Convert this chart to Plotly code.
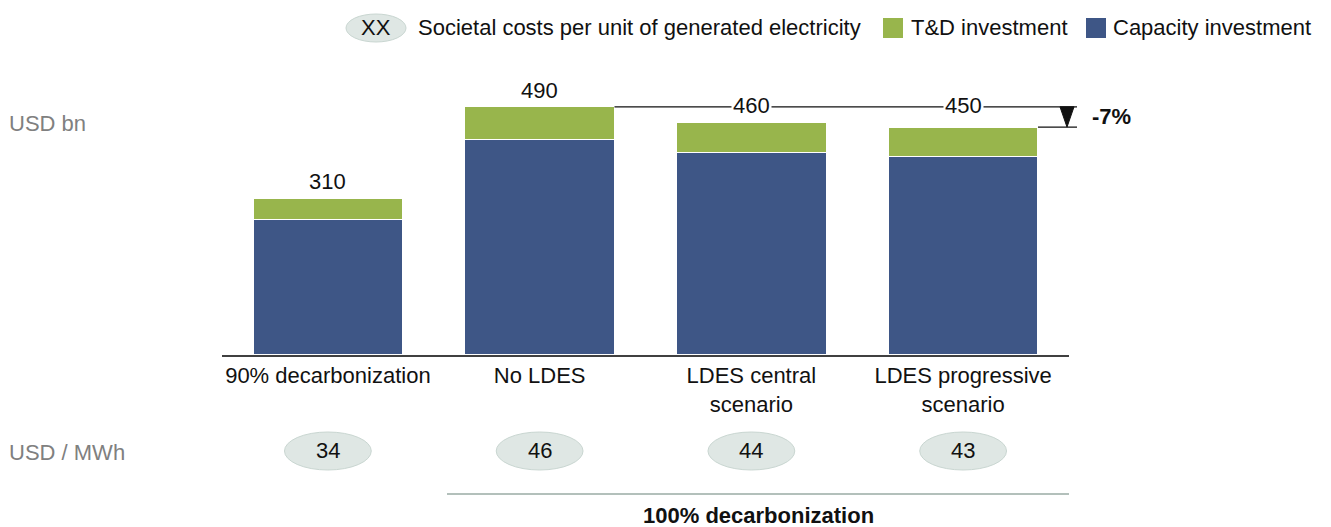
import plotly.graph_objects as go

categories = ["90% decarbonization", "No LDES", "LDES central<br>scenario", "LDES progressive<br>scenario"]
capacity = [268, 425, 400, 392]
td = [42, 65, 60, 58]
totals = [310, 490, 460, 450]
cost_per_mwh = [34, 46, 44, 43]
reduction_label = "-7%"

BLUE = "#3e5686"
GREEN = "#98b54c"
FONT = "Arial, Liberation Sans, sans-serif"
FS = 22

W, H = 1331, 527
L, R, T, B = 222, 1069, 80, 355
PW, PH = R - L, B - T
YMAX = 543
NCAT = len(categories)

def px_x(px):
    return (px - L) / PW

def px_y(py):
    return (B - py) / PH

def cat_paper(v):
    return (v + 0.5) / NCAT

x_idx = list(range(NCAT))
BW = 0.707

fig = go.Figure()
fig.add_trace(go.Bar(x=x_idx, y=capacity, name="Capacity investment",
                     marker=dict(color=BLUE, line=dict(color="white", width=1.2)), width=BW, showlegend=False))
fig.add_trace(go.Bar(x=x_idx, y=td, name="T&D investment",
                     marker=dict(color=GREEN, line=dict(color="white", width=1.2)), width=BW, showlegend=False))

ann = []
shapes = []

def text_ann(x, y, text, xref="paper", yref="paper", xanchor="center", yanchor="middle", color="#111", size=FS, **kw):
    ann.append(dict(x=x, y=y, xref=xref, yref=yref, text=text, showarrow=False, xanchor=xanchor, yanchor=yanchor,
                    font=dict(size=size, color=color, family=FONT), **kw))

# total labels above first two bars
for i in [0, 1]:
    text_ann(i, totals[i], str(totals[i]), xref="x", yref="y", yanchor="bottom", yshift=2)

# connector lines and -7% arrow
x_end = px_x(1077)
shapes.append(dict(type="line", xref="paper", yref="y", x0=cat_paper(1 + BW / 2), x1=x_end,
                   y0=totals[1], y1=totals[1], line=dict(color="#111", width=1.3)))
shapes.append(dict(type="line", xref="paper", yref="y", x0=cat_paper(3 + BW / 2), x1=x_end,
                   y0=totals[3], y1=totals[3], line=dict(color="#111", width=1.3)))
for i in [2, 3]:
    text_ann(i, totals[1], str(totals[i]), xref="x", yref="y", bgcolor="white", borderpad=1, yshift=1)
xa = px_x(1067)
hw = 7 / PW
shapes.append(dict(type="path", xref="paper", yref="y",
                   path=f"M {xa-hw},{totals[1]} L {xa+hw},{totals[1]} L {xa},{totals[3]} Z",
                   fillcolor="#111", line=dict(color="#111", width=1)))
text_ann(px_x(1090), (totals[1] + totals[3]) / 2, f"<b>{reduction_label}</b>", yref="y", xanchor="left")

# ellipses with per-MWh costs
eh = 19 / PH
ecy = px_y(451)
for i, v in enumerate(cost_per_mwh):
    shapes.append(dict(type="circle", xref="x", yref="paper", x0=i - 0.205, x1=i + 0.205, y0=ecy - eh, y1=ecy + eh,
                       fillcolor="#dfe7e4", line=dict(color="#c9d6d1", width=1)))
    text_ann(i, ecy, str(v), xref="x", yshift=1)

# 100% decarbonization bracket
shapes.append(dict(type="line", xref="paper", yref="paper", x0=px_x(447), x1=1.0, y0=px_y(494), y1=px_y(494),
                   line=dict(color="#b3c0bb", width=2)))
text_ann((px_x(447) + 1.0) / 2, px_y(515), "<b>100% decarbonization</b>")

# left unit labels
for txt, py in [("USD bn", 123), ("USD / MWh", 452)]:
    text_ann(px_x(7), px_y(py), txt, xanchor="left", color="#808080")

# custom legend
ly = px_y(28)
shapes.append(dict(type="circle", xref="paper", yref="paper", x0=px_x(346), x1=px_x(406), y0=px_y(42), y1=px_y(14),
                   fillcolor="#dfe7e4", line=dict(color="#c9d6d1", width=1)))
text_ann(px_x(376), ly, "XX")
text_ann(px_x(416), ly, "Societal costs per unit of generated electricity", xanchor="left")
for (x0, x1, col, txt, tx) in [(883, 903, GREEN, "T&D investment", 909), (1086, 1106, BLUE, "Capacity investment", 1111)]:
    shapes.append(dict(type="rect", xref="paper", yref="paper", x0=px_x(x0), x1=px_x(x1), y0=px_y(38), y1=px_y(18),
                       fillcolor=col, line=dict(width=0)))
    text_ann(px_x(tx), ly, txt, xanchor="left")

fig.update_layout(
    barmode="stack",
    width=W, height=H,
    margin=dict(l=L, r=W - R, t=T, b=H - B, pad=0),
    paper_bgcolor="white", plot_bgcolor="white",
    font=dict(family=FONT, size=FS, color="#111"),
    xaxis=dict(tickmode="array", tickvals=x_idx, ticktext=categories, range=[-0.5, NCAT - 0.5],
               showline=True, linecolor="#404040", linewidth=2, ticks="", showgrid=False, zeroline=False,
               tickfont=dict(size=FS, color="#111", family=FONT)),
    yaxis=dict(range=[0, YMAX], visible=False, showgrid=False, zeroline=False),
    annotations=ann, shapes=shapes,
)

fig.write_html("out.html", config={"displayModeBar": False},
               post_script="document.body.style.margin='0';document.body.style.overflow='hidden';")
